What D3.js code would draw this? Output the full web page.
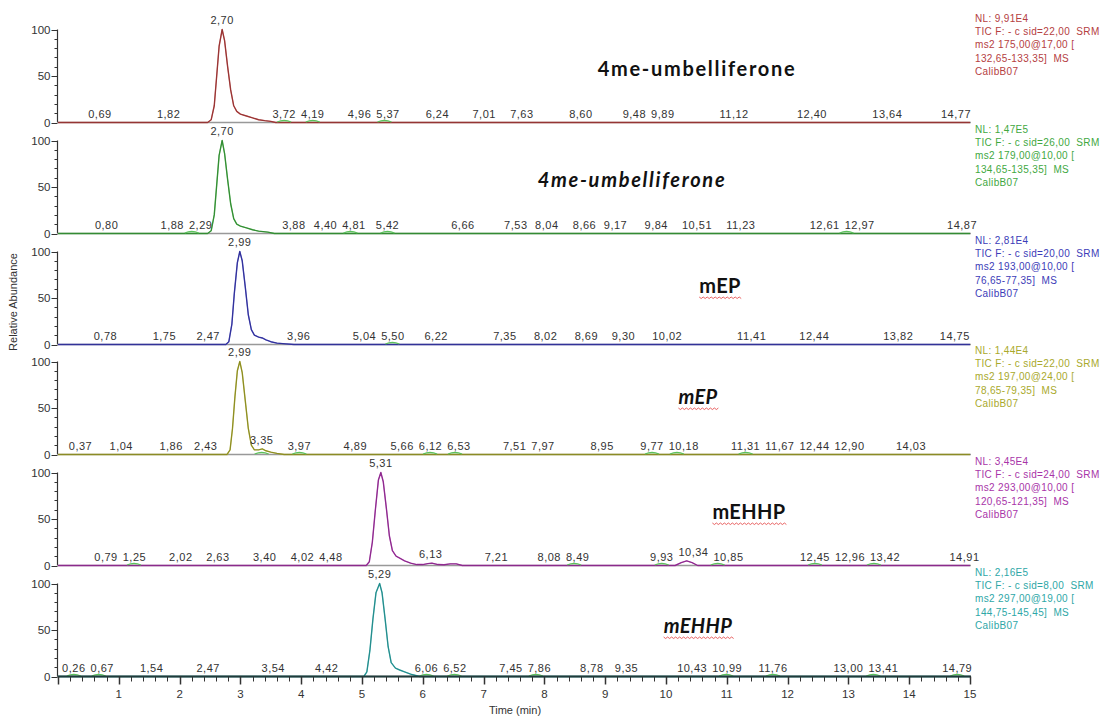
<!DOCTYPE html>
<html>
<head>
<meta charset="utf-8">
<script src="https://cdn.jsdelivr.net/npm/d3@7"></script>
<style>
  html, body { margin: 0; padding: 0; background: #fff; }
  svg { display: block; }
  text { font-family: "Liberation Sans", Arial, sans-serif; }
</style>
</head>
<body>
<svg id="chart" width="1112" height="718"></svg>
<script>
// ---- chromatogram traces: [time (min), relative abundance (%)] ----
const trace4meUmb175 = [[0,0],[2.46,0],[2.52,3],[2.57,18],[2.61,50],[2.65,82],[2.70,100],[2.74,88],[2.79,60],[2.84,35],[2.89,18],[2.94,12],[3.0,9],[3.1,7],[3.2,5],[3.3,3],[3.4,2],[3.5,1.2],[3.58,0],[15,0]];
const trace4meUmb179 = [[0,0],[2.46,0],[2.52,3],[2.57,20],[2.61,52],[2.65,84],[2.70,100],[2.74,86],[2.79,58],[2.84,32],[2.89,16],[2.94,10],[3.0,8],[3.1,6],[3.2,4],[3.3,2.5],[3.45,1.5],[3.56,0],[15,0]];
const traceMEP193 = [[0,0],[2.76,0],[2.81,3],[2.86,22],[2.9,55],[2.95,88],[2.99,100],[3.03,90],[3.08,62],[3.13,32],[3.18,16],[3.23,10],[3.3,8],[3.36,7],[3.42,5],[3.5,3],[3.6,1.5],[3.75,0.7],[3.88,0],[15,0]];
const traceMEP197 = [[0,0],[2.78,0],[2.83,5],[2.87,28],[2.91,62],[2.95,90],[2.99,100],[3.03,88],[3.08,58],[3.13,28],[3.18,10],[3.23,5],[3.3,5],[3.36,6],[3.42,4],[3.5,2.5],[3.6,1.2],[3.72,0],[15,0]];
const traceMEHHP293 = [[0,0],[5.07,0],[5.12,4],[5.17,25],[5.22,60],[5.27,92],[5.31,100],[5.35,90],[5.4,62],[5.45,32],[5.5,16],[5.56,10],[5.62,8],[5.7,5],[5.8,2.5],[5.9,1],[6.0,1],[6.08,2],[6.15,2.5],[6.25,1],[6.35,0.8],[6.45,1.8],[6.55,1.8],[6.65,0],[10.15,0],[10.25,3],[10.34,5],[10.43,3],[10.52,0],[15,0]];
const traceMEHHP297 = [[0,0],[5.03,0],[5.08,5],[5.13,28],[5.18,62],[5.23,90],[5.29,100],[5.33,90],[5.38,62],[5.43,32],[5.48,15],[5.55,9],[5.62,7],[5.7,5],[5.8,2.5],[5.9,0.8],[5.95,0],[15,0]];

// ---- apex retention times ----
const apexTimes = [2.70, 2.70, 2.99, 2.99, 5.31, 5.29];

// ---- annotated retention times along each baseline ----
const rtLabels1 = [0.69,1.82,3.72,4.19,4.96,5.37,6.24,7.01,7.63,8.60,9.48,9.89,11.12,12.40,13.64,14.77];
const rtLabels2 = [0.80,1.88,2.29,3.88,4.40,4.81,5.42,6.66,7.53,8.04,8.66,9.17,9.84,10.51,11.23,12.61,12.97,14.87];
const rtLabels3 = [0.78,1.75,2.47,3.96,5.04,5.50,6.22,7.35,8.02,8.69,9.30,10.02,11.41,12.44,13.82,14.75];
const rtLabels4 = [0.37,1.04,1.86,2.43,3.35,3.97,4.89,5.66,6.12,6.53,7.51,7.97,8.95,9.77,10.18,11.31,11.67,12.44,12.90,14.03];
const rtLabels5 = [0.79,1.25,2.02,2.63,3.40,4.02,4.48,6.13,7.21,8.08,8.49,9.93,10.34,10.85,12.45,12.96,13.42,14.91];
const rtLabels6 = [0.26,0.67,1.54,2.47,3.54,4.42,6.06,6.52,7.45,7.86,8.78,9.35,10.43,10.99,11.76,13.00,13.41,14.79];

// ---- minor detected peaks (small green markers) ----
const minorPeaks1 = [3.72,4.19,5.37];
const minorPeaks2 = [2.20,4.81,5.42,12.97];
const minorPeaks3 = [5.50];
const minorPeaks4 = [3.35,3.97,6.12,6.53,9.77,10.18,11.31];
const minorPeaks5 = [1.25,8.49,9.93,10.85,12.45,13.42];
const minorPeaks6 = [0.26,0.67,6.06,6.52,7.86,10.99,11.76,13.41,14.79];

// ---- compound names ----
const compoundNames = ["4me-umbelliferone","4me-umbelliferone","mEP","mEP","mEHHP","mEHHP"];
const compoundItalic = [false,true,false,true,false,true];
const compoundSpellMark = [false,false,true,true,true,true];

// ---- scan header text ----
const scanHeaders = [
  ["NL: 9,91E4","TIC F: - c sid=22,00  SRM","ms2 175,00@17,00 [","132,65-133,35]  MS","CalibB07"],
  ["NL: 1,47E5","TIC F: - c sid=26,00  SRM","ms2 179,00@10,00 [","134,65-135,35]  MS","CalibB07"],
  ["NL: 2,81E4","TIC F: - c sid=20,00  SRM","ms2 193,00@10,00 [","76,65-77,35]  MS","CalibB07"],
  ["NL: 1,44E4","TIC F: - c sid=22,00  SRM","ms2 197,00@24,00 [","78,65-79,35]  MS","CalibB07"],
  ["NL: 3,45E4","TIC F: - c sid=24,00  SRM","ms2 293,00@10,00 [","120,65-121,35]  MS","CalibB07"],
  ["NL: 2,16E5","TIC F: - c sid=8,00  SRM","ms2 297,00@19,00 [","144,75-145,45]  MS","CalibB07"]
];

// ---- axis ticks ----
const xTickLabels = d3.range(1, 16);
const yTickLabels = [0, 50, 100];

const traceColors = ["#b5403f","#3fa83f","#3c3cb8","#a9a92c","#a834a8","#2ea7a7"];

const traces = [trace4meUmb175, trace4meUmb179, traceMEP193, traceMEP197, traceMEHHP293, traceMEHHP297];
const rtLabels = [rtLabels1, rtLabels2, rtLabels3, rtLabels4, rtLabels5, rtLabels6];
const minorPeaks = [minorPeaks1, minorPeaks2, minorPeaks3, minorPeaks4, minorPeaks5, minorPeaks6];

// ---- layout ----
const svg = d3.select("#chart");
const xLeft = 57.5, xRight = 970;
const firstBase = 122, panelStep = 110.8, panelHeight = 93;

const x = d3.scaleLinear().domain([0, 15]).range([58, xRight]);
const fmt = v => d3.format(".2f")(v).replace(".", ",");

function valueAt(data, t) {
  const i = d3.bisector(d => d[0]).right(data, t);
  if (i <= 0) return data[0][1];
  if (i >= data.length) return data[data.length - 1][1];
  const a = data[i - 1], b = data[i];
  return a[1] + (b[1] - a[1]) * (t - a[0]) / (b[0] - a[0]);
}

traces.forEach((data, p) => {
  const base = Math.round(firstBase + p * panelStep) + 0.5;
  const y = d3.scaleLinear().domain([0, 100]).range([base, base - panelHeight]);
  const g = svg.append("g");
  const color = traceColors[p];

  // y axis with minor ticks every 10
  g.append("line").attr("x1", xLeft).attr("x2", xLeft)
    .attr("y1", y(0)).attr("y2", y(100)).attr("stroke", "#333").attr("stroke-width", 1.2);
  d3.range(0, 101, 10).forEach(v => {
    const major = v % 50 === 0;
    g.append("line").attr("x1", xLeft - (major ? 6 : 3)).attr("x2", xLeft)
      .attr("y1", Math.round(y(v)) + 0.5).attr("y2", Math.round(y(v)) + 0.5)
      .attr("stroke", "#333").attr("stroke-width", 1);
  });
  yTickLabels.forEach(v => {
    g.append("text").attr("x", xLeft - 7).attr("y", y(v) + 4)
      .attr("text-anchor", "end").attr("font-size", 11.5).attr("fill", "#333").text(v);
  });

  // baseline axis
  g.append("line").attr("x1", xLeft).attr("x2", xRight + 1).attr("y1", base).attr("y2", base)
    .attr("stroke", "#999").attr("stroke-width", 1.5);

  // trace
  const line = d3.line().x(d => x(d[0])).y(d => y(d[1]));
  g.append("path").datum(data).attr("d", line)
    .attr("fill", "none").attr("stroke", color).attr("stroke-width", 1.4)
    .attr("stroke-linejoin", "round");
  g.append("path").datum(data).attr("d", line)
    .attr("fill", "none").attr("stroke", d3.color(color).darker(1.2)).attr("stroke-width", 1)
    .attr("opacity", 0.5);

  // minor peak markers
  minorPeaks[p].forEach(t => {
    g.append("path")
      .attr("d", `M${x(t) - 7},${base - 0.5} Q${x(t)},${base - 3.5} ${x(t) + 7},${base - 0.5}`)
      .attr("fill", "none").attr("stroke", "#5cc15c").attr("stroke-width", 1.3);
  });

  // retention time labels, pushed right where they would collide
  let prevRight = -Infinity;
  rtLabels[p].slice().sort((a, b) => a - b).forEach(t => {
    const txt = g.append("text").attr("y", y(valueAt(data, t)) - 5)
      .attr("text-anchor", "middle").attr("font-size", 11).attr("letter-spacing", 0.5)
      .attr("fill", "#333").text(fmt(t));
    const w = txt.node().getComputedTextLength();
    let cx = x(t);
    if (cx - w / 2 < prevRight + 5) cx = prevRight + 5 + w / 2;
    txt.attr("x", cx);
    prevRight = cx + w / 2;
  });

  // apex label
  const apex = apexTimes[p];
  g.append("text").attr("x", x(apex)).attr("y", y(valueAt(data, apex)) - 6)
    .attr("text-anchor", "middle").attr("font-size", 11).attr("letter-spacing", 0.5)
    .attr("fill", "#333").text(fmt(apex));

  // scan header
  scanHeaders[p].forEach((s, i) => {
    g.append("text").attr("x", 975).attr("y", base - 101 + i * 13.4)
      .attr("font-size", 10).attr("letter-spacing", 0.35).attr("fill", color)
      .attr("xml:space", "preserve").text(s);
  });
});

// compound names
const namePos = [[697, 76], [632, 187], [720, 293], [698, 404], [749, 519], [698, 633]];
compoundNames.forEach((name, p) => {
  const t = svg.append("text").attr("x", namePos[p][0]).attr("y", namePos[p][1])
    .attr("text-anchor", "middle").attr("font-size", 20).attr("font-weight", "bold")
    .attr("font-style", compoundItalic[p] ? "italic" : "normal")
    .attr("letter-spacing", name.length > 6 ? 1.7 : 0.4)
    .style("font-family", "Lato, 'Open Sans', sans-serif")
    .attr("fill", "#111").text(name);
  if (compoundSpellMark[p]) {
    const w = t.node().getComputedTextLength();
    const x0 = namePos[p][0] - w / 2, y0 = namePos[p][1] + 4;
    let d = `M${x0},${y0}`;
    for (let k = 0, xx = x0; xx < x0 + w; k++) {
      xx += 2;
      d += ` L${xx},${y0 + (k % 2 === 0 ? 1.5 : 0)}`;
    }
    svg.append("path").attr("d", d).attr("fill", "none")
      .attr("stroke", "#e23b3b").attr("stroke-width", 0.8);
  }
});

// bottom time axis
const bottomBase = Math.round(firstBase + 5 * panelStep) + 0.5;
const axisG = svg.append("g");
axisG.append("line").attr("x1", xLeft).attr("x2", xRight + 1).attr("y1", bottomBase).attr("y2", bottomBase)
  .attr("stroke", "#1f3b3b").attr("stroke-width", 2);
d3.range(0, 75.5, 1).forEach(k => {
  const t = k / 5;
  const major = k % 5 === 0;
  const xx = Math.round(x(t)) + 0.5;
  axisG.append("line").attr("x1", xx).attr("x2", xx)
    .attr("y1", bottomBase).attr("y2", bottomBase + (major ? 8 : 5))
    .attr("stroke", "#333").attr("stroke-width", major ? 1.5 : 1);
});
xTickLabels.forEach(v => {
  axisG.append("text").attr("x", x(v)).attr("y", bottomBase + 21)
    .attr("text-anchor", "middle").attr("font-size", 11.5).attr("fill", "#333").text(v);
});
axisG.append("text").attr("x", 515).attr("y", 714).attr("text-anchor", "middle")
  .attr("font-size", 11).attr("fill", "#333").text("Time (min)");

svg.append("text").attr("transform", "translate(17,302) rotate(-90)")
  .attr("text-anchor", "middle").attr("font-size", 11).attr("fill", "#333")
  .text("Relative Abundance");
</script>
</body>
</html>
